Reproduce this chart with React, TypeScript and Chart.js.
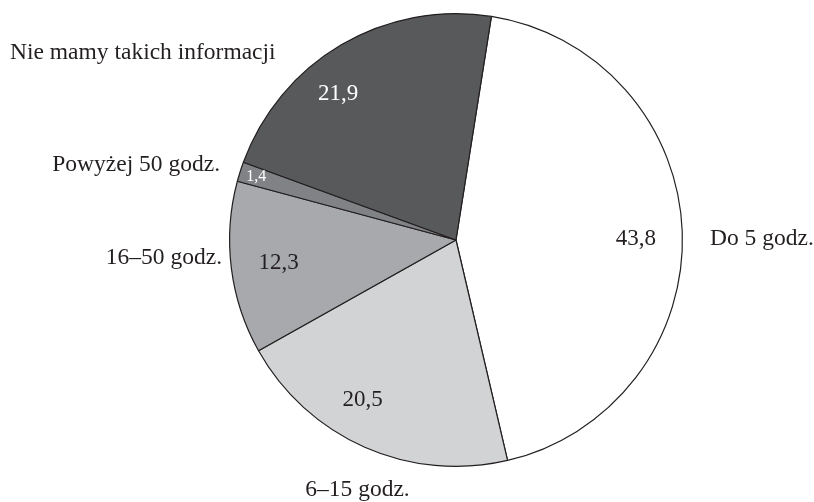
import React, { useEffect, useRef } from "react";
import { Chart, registerables } from "chart.js";

Chart.register(...registerables);

const categories = [
  "Do 5 godz.",
  "6–15 godz.",
  "16–50 godz.",
  "Powyżej 50 godz.",
  "Nie mamy takich informacji",
];
const values = [43.8, 20.5, 12.3, 1.4, 21.9];
const valueLabels = ["43,8", "20,5", "12,3", "1,4", "21,9"];

const sliceColors = ["#ffffff", "#d1d3d4", "#a7a9ac", "#808285", "#58595b"];
const valueTextColors = ["#231f20", "#231f20", "#231f20", "#ffffff", "#ffffff"];
const valueFontSizes = [23, 23, 23, 16, 23];
// value label placement: angle tweak from slice middle (deg) and radius fraction
const valueAngleTweak = [1.8, 6.5, -0.3, 0.1, -8.5];
const valueRadiusFrac = [0.795, 0.819, 0.79, 0.926, 0.828];
// category label placement relative to pie centre (px) and alignment
const catDx = [254, -98.5, -234, -236, -446];
const catDy = [-0.8, 250.2, 17.5, -74.8, -186.8];
const catAlign: CanvasTextAlign[] = ["left", "center", "right", "right", "left"];

const FONT = '"Liberation Serif", "DejaVu Serif", serif';
const TEXT = "#231f20";

const labelPlugin = {
  id: "pieLabels",
  afterDatasetsDraw(chart: any) {
    const ctx = chart.ctx as CanvasRenderingContext2D;
    const meta = chart.getDatasetMeta(0);
    ctx.save();
    ctx.textBaseline = "middle";
    meta.data.forEach((arc: any, i: number) => {
      const { x, y, startAngle, endAngle, outerRadius } = arc.getProps(
        ["x", "y", "startAngle", "endAngle", "outerRadius"],
        true
      );
      const mid = (startAngle + endAngle) / 2 + (valueAngleTweak[i] * Math.PI) / 180;
      const r = outerRadius * valueRadiusFrac[i];
      ctx.font = `${valueFontSizes[i]}px ${FONT}`;
      ctx.fillStyle = valueTextColors[i];
      ctx.textAlign = "center";
      ctx.fillText(valueLabels[i], x + Math.cos(mid) * r, y + Math.sin(mid) * r);

      ctx.font = `23.5px ${FONT}`;
      ctx.fillStyle = TEXT;
      ctx.textAlign = catAlign[i];
      ctx.fillText(categories[i], x + catDx[i], y + catDy[i]);
    });
    ctx.restore();
  },
};

export default function App() {
  const ref = useRef<HTMLCanvasElement>(null);
  useEffect(() => {
    document.body.style.margin = "0";
    const canvas = ref.current;
    if (!canvas) return;
    const chart = new Chart(canvas, {
      type: "pie",
      data: {
        labels: categories,
        datasets: [
          {
            data: values,
            backgroundColor: sliceColors,
            borderColor: "#231f20",
            borderWidth: 1.2,
            hoverOffset: 0,
          },
        ],
      },
      options: {
        responsive: false,
        animation: false,
        rotation: 9,
        layout: { padding: { left: 229, right: 131, top: 13, bottom: 35 } },
        plugins: {
          legend: { display: false },
          tooltip: { enabled: false },
          title: { display: false },
        },
        events: [],
      },
      plugins: [labelPlugin],
    });
    return () => chart.destroy();
  }, []);
  return (
    <div style={{ width: 814, height: 502, background: "#fff" }}>
      <canvas ref={ref} width={814} height={502} style={{ display: "block" }} />
    </div>
  );
}
